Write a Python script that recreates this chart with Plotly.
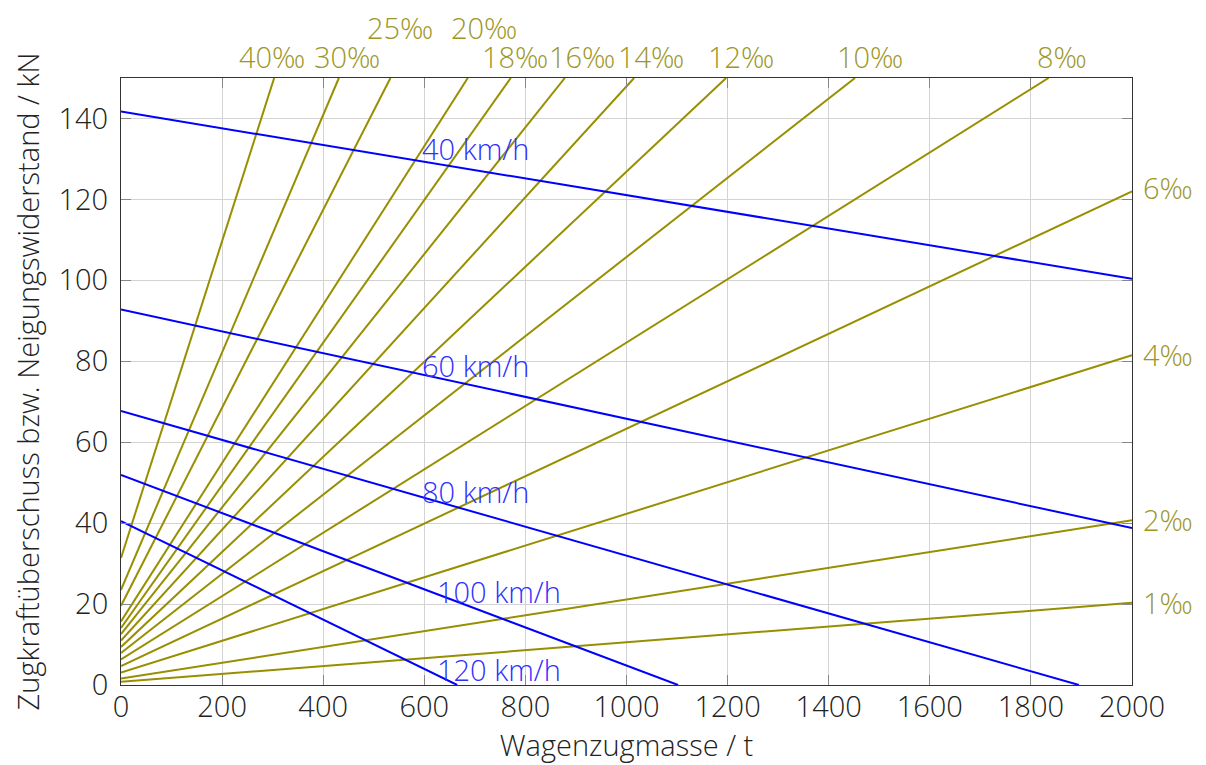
import plotly.graph_objects as go

# Gradient resistance lines (per mille)
grade_labels = ["1‰", "2‰", "4‰", "6‰", "8‰", "10‰", "12‰", "14‰", "16‰", "18‰", "20‰", "25‰", "30‰", "40‰"]
grade_x0 = [0] * 14
grade_y0 = [0.8, 1.6, 3.1, 4.7, 6.3, 7.9, 9.4, 11.0, 12.6, 14.1, 15.7, 19.6, 23.5, 31.4]
grade_x1 = [2000, 2000, 2000, 2000, 1835, 1452, 1197, 1015, 878, 771, 686, 533, 431, 303]
grade_y1 = [20.3, 40.7, 81.5, 122.0, 150, 150, 150, 150, 150, 150, 150, 150, 150, 150]

# Traction surplus lines (speed)
speed_labels = ["40 km/h", "60 km/h", "80 km/h", "100 km/h", "120 km/h"]
speed_y0 = [141.7, 92.8, 67.7, 51.9, 40.5]
speed_x1 = [2000, 2000, 1895, 1102, 665]
speed_y1 = [100.4, 38.8, 0, 0, 0]
speed_label_x = [597, 597, 597, 627, 627]
speed_label_y = [132.5, 79.0, 47.7, 23.2, 3.9]

# Gradient label positions
top_labels = ["40‰", "30‰", "25‰", "20‰", "18‰", "16‰", "14‰", "12‰", "10‰", "8‰"]
top_label_x = [298, 447, 552, 718, 779, 912, 1048, 1227, 1482, 1862]
top_label_row = [0, 0, 1, 1, 0, 0, 0, 0, 0, 0]
right_labels = ["6‰", "4‰", "2‰", "1‰"]
right_label_y = [123.0, 81.6, 41.0, 20.5]

x_ticks = list(range(0, 2001, 200))
y_ticks = list(range(0, 141, 20))

OLIVE = "#978f00"
OLIVE_TXT = "#9c9626"
BLUE = "#0000ff"
BLUE_TXT = "#2f2fff"
FONT = "Open Sans"
FS = 29

fig = go.Figure()
for lab, x0, y0, x1, y1 in zip(grade_labels, grade_x0, grade_y0, grade_x1, grade_y1):
    fig.add_trace(go.Scatter(x=[x0, x1], y=[y0, y1], mode="lines",
                             line=dict(color=OLIVE, width=2), name=lab, showlegend=False,
                             hoverinfo="skip"))
for lab, y0, x1, y1 in zip(speed_labels, speed_y0, speed_x1, speed_y1):
    fig.add_trace(go.Scatter(x=[0, x1], y=[y0, y1], mode="lines",
                             line=dict(color=BLUE, width=2), name=lab, showlegend=False,
                             hoverinfo="skip"))

ann = []
for lab, x, y in zip(speed_labels, speed_label_x, speed_label_y):
    ann.append(dict(x=x, y=y, xref="x", yref="y", text=lab, showarrow=False,
                    xanchor="left", yanchor="middle", xshift=-3,
                    font=dict(color=BLUE_TXT, size=FS, family=FONT, weight=300)))
row_y = [1.0346, 1.0824]
for lab, x, r in zip(top_labels, top_label_x, top_label_row):
    ann.append(dict(x=x, y=row_y[r], xref="x", yref="paper", text=lab, showarrow=False,
                    xanchor="center", yanchor="middle",
                    font=dict(color=OLIVE_TXT, size=FS, family=FONT, weight=300)))
for lab, y in zip(right_labels, right_label_y):
    ann.append(dict(x=1.0119, y=y, xref="paper", yref="y", text=lab, showarrow=False,
                    xanchor="left", yanchor="middle", xshift=-3,
                    font=dict(color=OLIVE_TXT, size=FS, family=FONT, weight=300)))

axis_common = dict(showgrid=True, gridcolor="#d3d3d3", gridwidth=1,
                   showline=True, linecolor="#333333", linewidth=1, mirror="ticks",
                   ticks="inside", ticklen=10, tickcolor="#888888", tickwidth=1,
                   zeroline=False, automargin=False,
                   tickfont=dict(size=FS, color="#222222", family=FONT, weight=300))

fig.update_layout(
    width=1206, height=765,
    margin=dict(l=113, r=82, t=70, b=88),
    plot_bgcolor="white", paper_bgcolor="white",
    font=dict(family=FONT, weight=300),
    xaxis=dict(range=[0, 2000], tickvals=x_ticks, ticklabelstandoff=-4, **axis_common,
               title=dict(text="Wagenzugmasse / t", standoff=8,
                          font=dict(size=FS, color="#222222", family=FONT, weight=300))),
    yaxis=dict(range=[0, 150], tickvals=y_ticks, ticklabelstandoff=6, **axis_common,
               title=dict(text="Zugkraftüberschuss bzw. Neigungswiderstand / kN", standoff=17,
                          font=dict(size=FS, color="#222222", family=FONT, weight=300))),
    annotations=ann,
    showlegend=False,
)

fig.write_html("out.html")
